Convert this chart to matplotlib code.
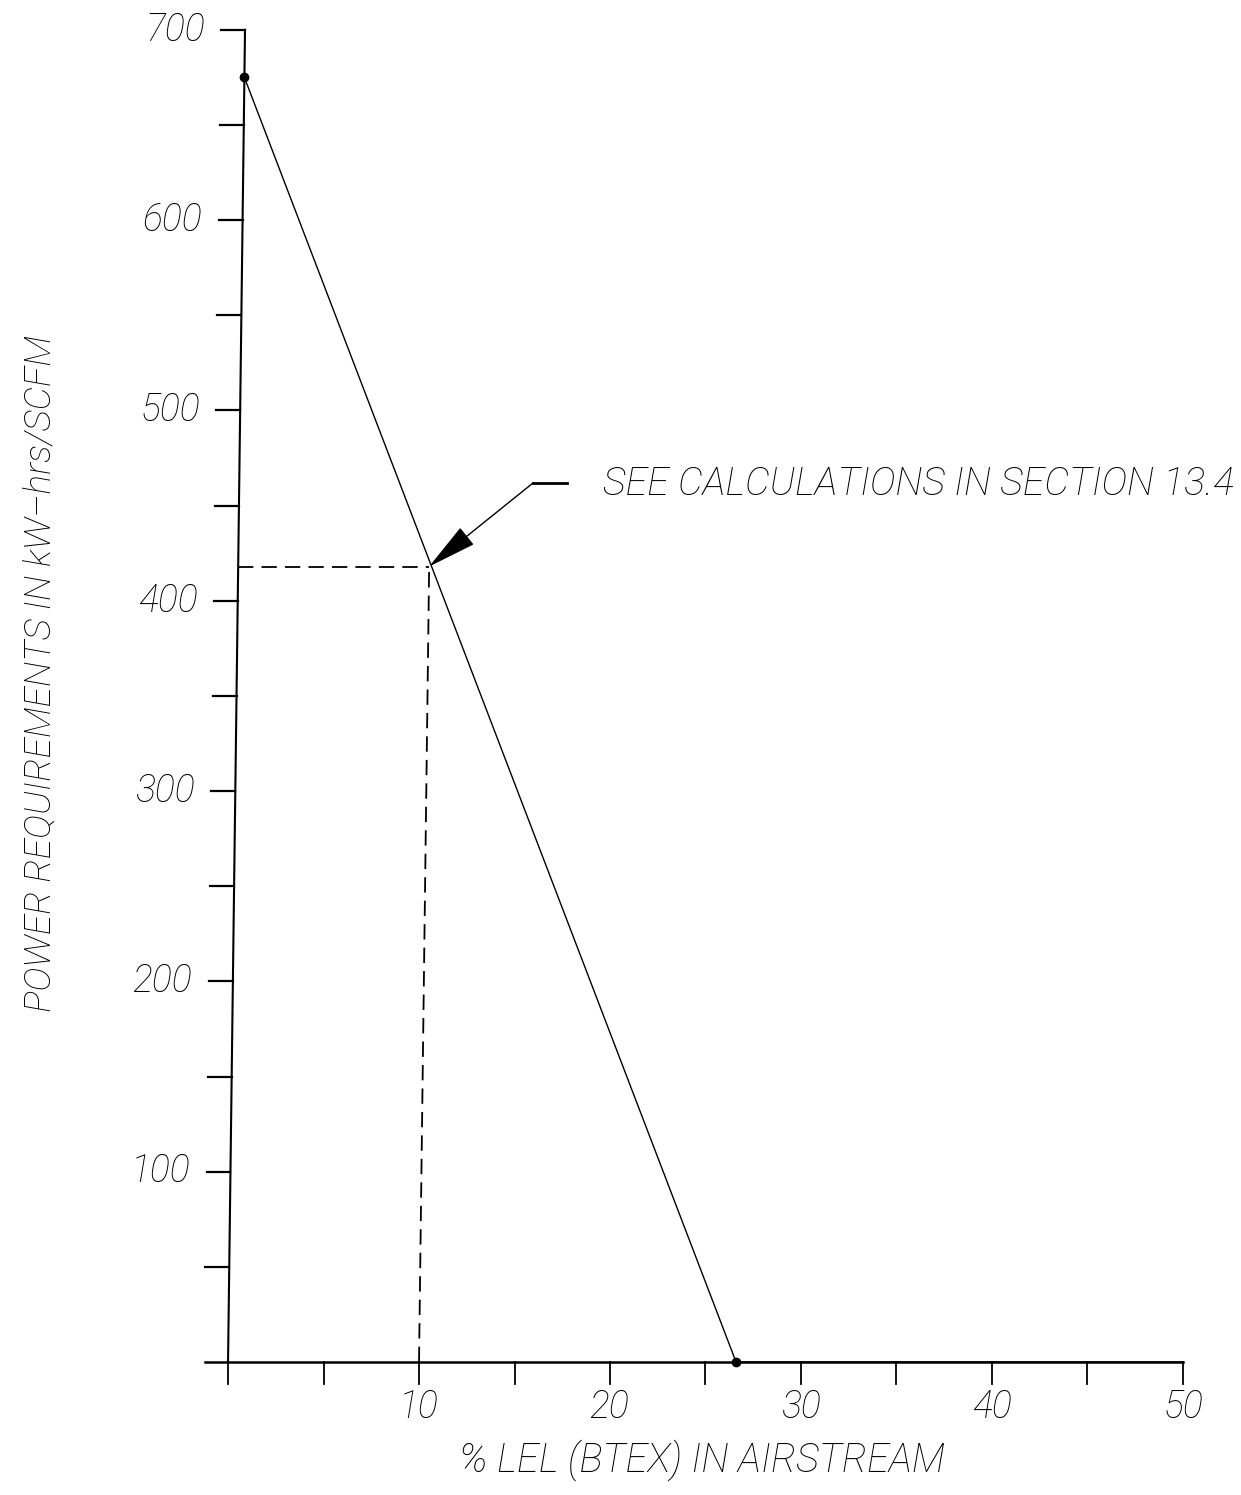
import numpy as np
import matplotlib
matplotlib.use("Agg")
import matplotlib.pyplot as plt
from matplotlib.patches import FancyArrowPatch

# values
lel_pct = [0.0, 26.6, 50.0]
power_kwh = [675, 0, 0]
calc_lel = 10.0
calc_power = 418
x_ticks = np.arange(0, 55, 5)
x_labels = [10, 20, 30, 40, 50]
y_ticks = np.arange(50, 750, 50)
y_labels = [100, 200, 300, 400, 500, 600, 700]
note = "SEE CALCULATIONS IN SECTION 13.4"
xlabel = "% LEL (BTEX) IN AIRSTREAM"
ylabel = "POWER REQUIREMENTS IN kW\u2013hrs/SCFM"

# the scanned sheet is slightly sheared: vertical lines lean right going up
SKEW = 0.00127


def sk(x, y):
    return np.asarray(x, dtype=float) + SKEW * np.asarray(y, dtype=float)


plt.rcParams['font.family'] = ['Roboto', 'DejaVu Sans']
font = dict(style='italic', weight='light', color='black')

fig = plt.figure(figsize=(12.41, 14.95), dpi=100)
ax = fig.add_axes([0, 0, 1, 1])
ax.set_xlim(-11.94, 53.04)
ax.set_ylim(-69.9, 715.7)
ax.axis('off')

# axes drawn by hand
ax.plot([-1.2, 50], [0, 0], color='k', lw=1.8)
for t in x_ticks:
    ax.plot([t, t], [0, -11.6], color='k', lw=1.3)
ax.plot(sk([0, 0], [0, 700]), [0, 700], color='k', lw=1.5)
for t in y_ticks:
    ax.plot([sk(0, t) - 1.25, sk(0, t)], [t, t], color='k', lw=1.6)

# curve
ax.plot(sk(lel_pct, power_kwh), power_kwh, color='k', lw=1.0)
ax.plot(sk(lel_pct[:2], power_kwh[:2]), power_kwh[:2], 'o', color='k', ms=6)

# dashed guide to the calculated point
ax.plot([sk(0, calc_power), sk(calc_lel, calc_power)], [calc_power, calc_power],
        color='k', lw=1.3, dashes=(8.5, 4.5))
ax.plot(sk([calc_lel, calc_lel], [0, calc_power]), [0, calc_power],
        color='k', lw=1.3, dashes=(8.5, 4.5))

# leader + arrow
ax.plot([15.97, 17.75], [461.9, 461.9], color='k', lw=2.0)
arr = FancyArrowPatch((15.97, 461.9), (float(sk(calc_lel, calc_power)), calc_power),
                      arrowstyle='-|>,head_length=1.6,head_width=0.35',
                      mutation_scale=20, color='k', lw=1.0, shrinkA=0, shrinkB=0)
ax.add_patch(arr)
ax.text(19.63, 461, note, ha='left', va='center', fontsize=28.3, **font)

# tick labels
for t in x_labels:
    ax.text(t, -23.6, str(t), ha='center', va='center', fontsize=27, **font)
for t in y_labels:
    ax.text(float(sk(0, t)) - 2.1, t, str(t), ha='right', va='center',
            fontsize=27, **font)

ax.text(24.8, -51.5, xlabel, ha='center', va='center', fontsize=28.5, **font)
ax.text(-9.84, 362, ylabel, ha='center', va='center', rotation=90,
        fontsize=26.6, **font)

fig.savefig('out.png', dpi=100, facecolor='white')
